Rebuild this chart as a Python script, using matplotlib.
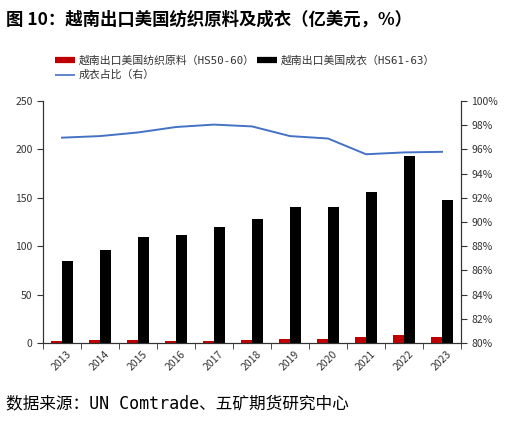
import matplotlib
matplotlib.use("Agg")
import matplotlib.pyplot as plt
import numpy as np
from matplotlib.lines import Line2D

plt.rcParams['font.family'] = ['Noto Sans CJK SC', 'DejaVu Sans']

years = ['2013', '2014', '2015', '2016', '2017', '2018', '2019', '2020', '2021', '2022', '2023']
textile = [2.5, 3.0, 3.0, 2.5, 2.5, 3.0, 3.8, 4.4, 6.5, 7.9, 5.9]
apparel = [84.4, 95.7, 109.8, 111.9, 120.2, 127.8, 140.2, 140.8, 155.7, 193.5, 148.0]
share = [96.97, 97.1, 97.4, 97.85, 98.05, 97.9, 97.1, 96.9, 95.6, 95.75, 95.8]

W, H = 528, 423
fig = plt.figure(figsize=(W/100, H/100), dpi=100)
ax = fig.add_axes([43/W, 1-343/H, (461-43)/W, (343-101)/H])
ax2 = ax.twinx()

x = np.arange(len(years))
bw = 0.28
ax.bar(x - bw/2, textile, bw, color='#C00000', zorder=2)
ax.bar(x + bw/2, apparel, bw, color='#000000', zorder=2)
ax2.plot(x, share, color='#4472C4', lw=1.4)

ax.set_xlim(-0.5, len(years) - 0.5)
ax.set_ylim(0, 250)
ax.set_yticks(range(0, 251, 50))
ax2.set_ylim(80, 100)
ax2.set_yticks(range(80, 101, 2))
ax2.set_yticklabels([f'{v}%' for v in range(80, 101, 2)])

ax.set_xticks(x)
ax.set_xticklabels(years, rotation=45, ha='center', fontsize=7.5, color='#333333')
ax.set_xticks(np.arange(-0.5, len(years), 1), minor=True)
ax.tick_params(axis='x', which='major', length=0, pad=4)
ax.tick_params(axis='x', which='minor', length=4, direction='out', color='#333333')
ax.tick_params(axis='y', length=4, direction='out', labelsize=7.5, labelcolor='#333333', color='#333333')
ax2.tick_params(axis='y', length=4, direction='out', labelsize=7.5, labelcolor='#333333', color='#333333')

for a in (ax, ax2):
    a.spines['top'].set_visible(False)
    for s in ('left', 'right', 'bottom'):
        a.spines[s].set_color('#333333')
        a.spines[s].set_linewidth(0.8)

mono = ['DejaVu Sans Mono', 'Noto Sans CJK SC']
fig.text(6/W, 1-20/H, '图 10：越南出口美国纺织原料及成衣（亿美元，%）', fontsize=12.5,
         fontweight='bold', va='center', ha='left')
fig.text(6/W, 1-403/H, '数据来源：UN Comtrade、五矿期货研究中心', fontsize=12,
         va='center', ha='left', family=mono)

handles = [Line2D([0], [0], color='#C00000', lw=4.5, solid_capstyle='butt'),
           Line2D([0], [0], color='#4472C4', lw=1.2, solid_capstyle='butt'),
           Line2D([0], [0], color='#000000', lw=4.5, solid_capstyle='butt')]
labels = ['越南出口美国纺织原料（HS50-60）', '成衣占比（右）', '越南出口美国成衣（HS61-63）']
leg = fig.legend(handles, labels, loc='upper left', bbox_to_anchor=(55/W, 1-55/H), ncol=2,
                 frameon=False, handlelength=1.8, handletextpad=0.4,
                 columnspacing=0.2, labelspacing=0.4, borderaxespad=0, borderpad=0,
                 prop={'family': mono, 'size': 7.8})
for t in leg.get_texts():
    t.set_color('#333333')

fig.savefig('out.png', dpi=100)
